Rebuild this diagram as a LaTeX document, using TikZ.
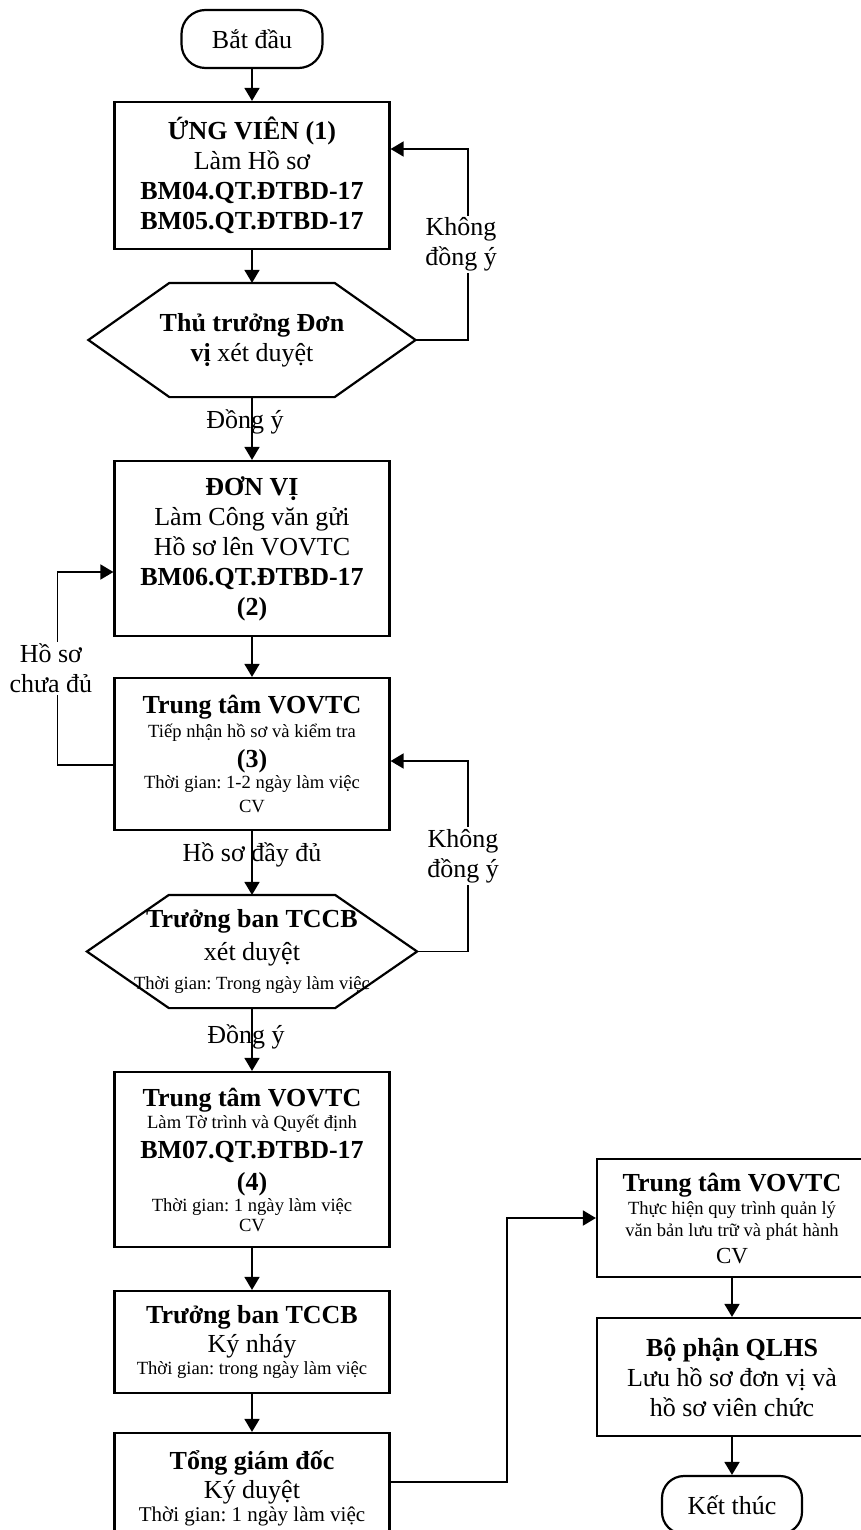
\documentclass[tikz,border=0pt]{standalone}
\usepackage{fontspec}
\setmainfont{Liberation Serif}
\usepackage{tikz}
\usetikzlibrary{arrows.meta,positioning}
\frenchspacing
\newcommand\sm{\fontsize{9.3pt}{11pt}\selectfont}
\newcommand\hexframe[2]{\draw[line width=1.1pt] (#1.west) -- ([xshift=#2]#1.north west)
  -- ([xshift=-#2]#1.north east) -- (#1.east) -- ([xshift=-#2]#1.south east)
  -- ([xshift=#2]#1.south west) -- cycle;}
\begin{document}
\begin{tikzpicture}[x=0.5pt, y=-0.5pt, line width=0.9pt,
   font=\fontsize{13pt}{15pt}\selectfont,
   box/.style={draw, line width=1.1pt, minimum width=137.5pt, inner sep=0pt,
               align=center},
   term/.style={draw, line width=1.1pt, rounded corners=12pt, minimum width=70.5pt,
                minimum height=29pt, inner sep=0pt},
   hex/.style={minimum height=56pt, inner sep=0pt, outer sep=0.55pt, align=center},
   lbl/.style={align=center, fill=white, inner sep=1pt},
   >={Triangle[length=6.5pt,width=7.5pt]}]
  \useasboundingbox (0,0) rectangle (861,1530);
  \clip (0,0) rectangle (861,1530);
  % main column
  \node[term] (a) at (252,39) {Bắt đầu};
  \node[box, minimum height=73.5pt, below=15.9pt of a] (b)
    {\textbf{ỨNG VIÊN (1)}\\Làm Hồ sơ\\\textbf{BM04.QT.ĐTBD-17}\\\textbf{BM05.QT.ĐTBD-17}};
  \node[hex, minimum width=162.5pt, below=16.4pt of b] (c)
    {\textbf{Thủ trưởng Đơn}\\\textbf{vị} xét duyệt};
  \hexframe{c}{40.5pt}
  \node[box, minimum height=87.5pt, below=31.4pt of c] (d)
    {\textbf{ĐƠN VỊ}\\Làm Công văn gửi\\Hồ sơ lên VOVTC\\\textbf{BM06.QT.ĐTBD-17}\\\textbf{(2)}};
  \node[box, minimum height=76pt, below=19.9pt of d] (e)
    {\textbf{Trung tâm VOVTC}\\[-3pt]{\sm Tiếp nhận hồ sơ và kiểm tra}\\\textbf{(3)}\\[-4.5pt]{\sm Thời gian: 1-2 ngày làm việc}\\[-3pt]{\sm CV}};
  \node[hex, minimum width=164pt, minimum height=55.5pt, below=31.9pt of e] (f)
    {\textbf{Trưởng ban TCCB}\\[1.5pt]xét duyệt\\[-0.5pt]{\sm Thời gian: Trong ngày làm việc}};
  \hexframe{f}{41pt}
  \node[box, minimum height=87.5pt, below=31.4pt of f] (g)
    {\textbf{Trung tâm VOVTC}\\[-4pt]{\sm Làm Tờ trình và Quyết định}\\\textbf{BM07.QT.ĐTBD-17}\\[1pt]\textbf{(4)}\\[-4.5pt]{\sm Thời gian: 1 ngày làm việc}\\[-5pt]{\sm CV}};
  \node[box, minimum height=51pt, below=20.9pt of g] (h)
    {\textbf{Trưởng ban TCCB}\\[-0.5pt]Ký nháy\\[-4pt]{\sm Thời gian: trong ngày làm việc}};
  \node[box, minimum height=55pt, below=18.9pt of h] (i)
    {\textbf{Tổng giám đốc}\\[-0.5pt]Ký duyệt\\[-3.5pt]{\fontsize{10.5pt}{12pt}\selectfont Thời gian: 1 ngày làm việc}};
  % right column
  \node[box, minimum width=135pt, minimum height=59pt] (j) at (732,1218)
    {\textbf{Trung tâm VOVTC}\\[-3.5pt]{\sm Thực hiện quy trình quản lý}\\[-4pt]{\sm văn bản lưu trữ và phát hành}\\[-1.5pt]{\fontsize{11.5pt}{13pt}\selectfont CV}};
  \node[box, minimum width=135pt, minimum height=59pt, below=19.4pt of j] (k)
    {\textbf{Bộ phận QLHS}\\Lưu hồ sơ đơn vị và\\hồ sơ viên chức};
  \node[term, rounded corners=11pt, minimum width=70pt, below=18.9pt of k] (l) {Kết thúc};
  % connectors
  \draw[->] (a) -- (b); \draw[->] (b) -- (c);
  \draw[->] (c) -- node[pos=0.4, xshift=-3.5pt] {Đồng ý} (d);
  \draw[->] (d) -- (e);
  \draw[->] (e) -- node[pos=0.38] {Hồ sơ đầy đủ} (f);
  \draw[->] (f) -- node[pos=0.46, xshift=-3pt] {Đồng ý} (g);
  \draw[->] (g) -- (h); \draw[->] (h) -- (i);
  \draw[->] (c.east) -- ++(26.25pt,0)
    |- node[lbl, pos=0.25, xshift=-3.5pt] {Không\\đồng ý} ([yshift=13.25pt]b.east);
  \draw[->] ([yshift=-5.5pt]e.west) -- ++(-28pt,0)
    |- node[lbl, pos=0.25, xshift=-3.25pt] {Hồ sơ\\chưa đủ} ([yshift=-11.75pt]d.west);
  \draw[->] (f.east) -- ++(25.5pt,0)
    |- node[lbl, pos=0.25, xshift=-2.5pt] {Không\\đồng ý} ([yshift=-3.5pt]e.east);
  \draw[->] ([yshift=3pt]i.east) -- ++(58pt,0) |- (j.west);
  \draw[->] (j) -- (k); \draw[->] (k) -- (l);
\end{tikzpicture}
\end{document}
